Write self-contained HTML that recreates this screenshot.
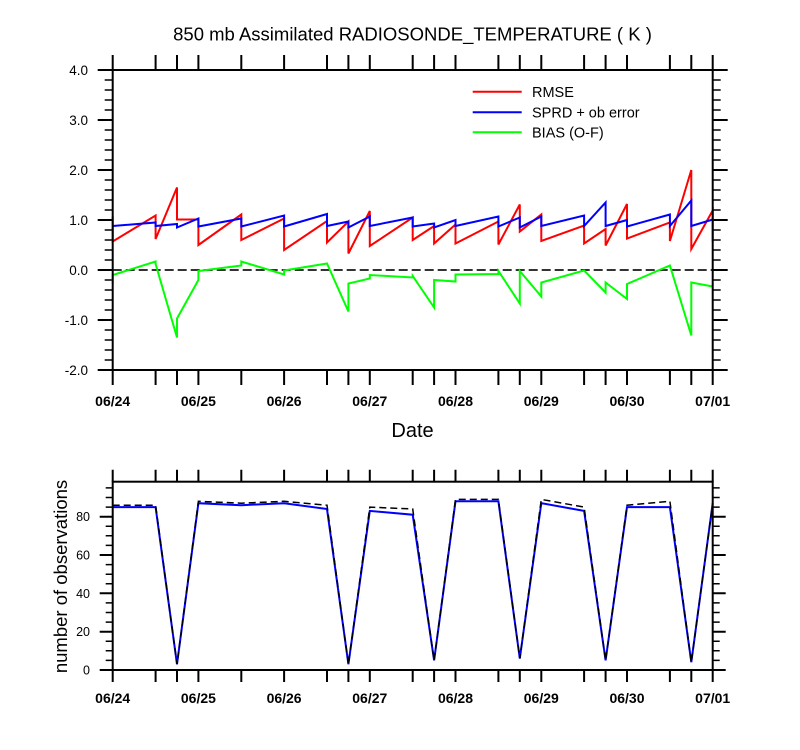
<!DOCTYPE html>
<html><head><meta charset="utf-8"><style>
html,body{margin:0;padding:0;background:#fff;}
svg{display:block;}
text{font-family:"Liberation Sans",Arial,sans-serif;fill:#000;}
</style></head><body>
<svg width="800" height="750" viewBox="0 0 800 750" xmlns="http://www.w3.org/2000/svg">
<rect width="800" height="750" fill="#fff"/>
<!-- Title -->
<text x="412.5" y="40.5" font-size="18.5" text-anchor="middle">850 mb Assimilated RADIOSONDE_TEMPERATURE ( K )</text>

<!-- ===== TOP PLOT ===== -->
<g stroke="#000" stroke-width="2" fill="none">
<!-- left major -->
<path d="M97.7,70H112.7M97.7,120H112.7M97.7,170H112.7M97.7,220H112.7M97.7,270H112.7M97.7,320H112.7M97.7,370H112.7"/>
<!-- right major -->
<path d="M712.7,70H727.7M712.7,120H727.7M712.7,170H727.7M712.7,220H727.7M712.7,270H727.7M712.7,320H727.7M712.7,370H727.7"/>
</g>
<g stroke="#000" stroke-width="1.5" fill="none">
<path d="M104.7,80H112.7M104.7,90H112.7M104.7,100H112.7M104.7,110H112.7M104.7,130H112.7M104.7,140H112.7M104.7,150H112.7M104.7,160H112.7M104.7,180H112.7M104.7,190H112.7M104.7,200H112.7M104.7,210H112.7M104.7,230H112.7M104.7,240H112.7M104.7,250H112.7M104.7,260H112.7M104.7,280H112.7M104.7,290H112.7M104.7,300H112.7M104.7,310H112.7M104.7,330H112.7M104.7,340H112.7M104.7,350H112.7M104.7,360H112.7"/>
<path d="M712.7,80H720.7M712.7,90H720.7M712.7,100H720.7M712.7,110H720.7M712.7,130H720.7M712.7,140H720.7M712.7,150H720.7M712.7,160H720.7M712.7,180H720.7M712.7,190H720.7M712.7,200H720.7M712.7,210H720.7M712.7,230H720.7M712.7,240H720.7M712.7,250H720.7M712.7,260H720.7M712.7,280H720.7M712.7,290H720.7M712.7,300H720.7M712.7,310H720.7M712.7,330H720.7M712.7,340H720.7M712.7,350H720.7M712.7,360H720.7"/>
</g>
<!-- top & bottom ticks -->
<g stroke="#000" stroke-width="2" fill="none">
<path d="M112.7,55V70M155.6,55V70M177,55V70M198.4,55V70M241.3,55V70M284.1,55V70M327,55V70M348.4,55V70M369.8,55V70M412.7,55V70M434.1,55V70M455.5,55V70M498.4,55V70M519.8,55V70M541.3,55V70M584.1,55V70M605.6,55V70M627,55V70M669.9,55V70M691.3,55V70M712.7,55V70"/>
<path d="M112.7,370V385M155.6,370V385M177,370V385M198.4,370V385M241.3,370V385M284.1,370V385M327,370V385M348.4,370V385M369.8,370V385M412.7,370V385M434.1,370V385M455.5,370V385M498.4,370V385M519.8,370V385M541.3,370V385M584.1,370V385M605.6,370V385M627,370V385M669.9,370V385M691.3,370V385M712.7,370V385"/>
</g>
<!-- zero line -->
<line x1="112.7" y1="270" x2="712.7" y2="270" stroke="#333" stroke-width="2" stroke-dasharray="9,4"/>
<!-- series -->
<g fill="none" stroke-width="2" stroke-linejoin="miter">
<polyline stroke="#ff0000" points="112.7,216.5 112.7,241.5 155.6,215.5 155.6,239 177,187.5 177,219.5 198.4,219.5 198.4,245 241.3,214.5 241.3,240 284.1,218.5 284.1,250 327,221 327,242.5 348.4,221.5 348.4,253.5 369.8,211 369.8,246 412.7,217.5 412.7,240 434.1,226 434.1,243.5 455.5,224.5 455.5,243.5 498.4,221.5 498.4,244.5 519.8,204.5 519.8,231.5 541.3,214.5 541.3,241 584.1,225.5 584.1,243.5 605.6,229 605.6,245.5 627,204 627,238.5 669.9,222.5 669.9,241 691.3,170 691.3,249 712.7,210.5 712.7,241.5"/>
<polyline stroke="#0000ff" points="112.7,226 155.6,222.5 155.6,226 177,224 177,227.5 198.4,218.5 198.4,226.5 241.3,218.5 241.3,226.5 284.1,215.5 284.1,226.5 327,214 327,226 348.4,221.5 348.4,227.5 369.8,216.5 369.8,226 412.7,217.5 412.7,226.5 434.1,223.5 434.1,227.5 455.5,220 455.5,226 498.4,216.5 498.4,226.5 519.8,217.5 519.8,227.5 541.3,216.5 541.3,226 584.1,215.5 584.1,226 605.6,202.5 605.6,226 627,220 627,226.5 669.9,214.5 669.9,226 691.3,200.5 691.3,226 712.7,219.5"/>
<polyline stroke="#00ff00" points="112.7,283.5 112.7,275 155.6,261.5 155.6,264 177,337.5 177,318.5 198.4,280 198.4,271 241.3,265.5 241.3,261.5 284.1,274.5 284.1,270.5 327,263.5 348.4,311.5 348.4,283.5 369.8,278.5 369.8,275 412.7,277.5 412.7,276 434.1,307.5 434.1,280 455.5,281.5 455.5,274.5 498.4,274 498.4,271 519.8,303.5 519.8,271 541.3,296.5 541.3,282.5 584.1,270.5 605.6,292.5 605.6,282.5 627,299 627,284 669.9,265.5 691.3,335.5 691.3,282.5 712.7,286.5"/>
</g>
<!-- frame -->
<rect x="112.7" y="70" width="600" height="300" fill="none" stroke="#000" stroke-width="2"/>
<!-- Y labels -->
<g font-size="13.5" text-anchor="end">
<text x="88" y="75">4.0</text>
<text x="88" y="125">3.0</text>
<text x="88" y="175">2.0</text>
<text x="88" y="225">1.0</text>
<text x="88" y="275">0.0</text>
<text x="88" y="325">-1.0</text>
<text x="88" y="375">-2.0</text>
</g>
<!-- X labels -->
<g font-size="14" font-weight="bold" text-anchor="middle">
<text x="112.7" y="406">06/24</text>
<text x="198.4" y="406">06/25</text>
<text x="284.1" y="406">06/26</text>
<text x="369.8" y="406">06/27</text>
<text x="455.5" y="406">06/28</text>
<text x="541.3" y="406">06/29</text>
<text x="627" y="406">06/30</text>
<text x="712.7" y="406">07/01</text>
</g>
<text x="412.5" y="437" font-size="20" text-anchor="middle">Date</text>
<!-- Legend -->
<g stroke-width="2">
<line x1="472.7" y1="91.7" x2="521.7" y2="91.7" stroke="#ff0000"/>
<line x1="472.7" y1="112.3" x2="521.7" y2="112.3" stroke="#0000ff"/>
<line x1="472.7" y1="132.3" x2="521.7" y2="132.3" stroke="#00ff00"/>
</g>
<g font-size="14.5">
<text x="532" y="97">RMSE</text>
<text x="532" y="117.5">SPRD + ob error</text>
<text x="532" y="137.5">BIAS (O-F)</text>
</g>

<!-- ===== BOTTOM PLOT ===== -->
<g stroke="#000" stroke-width="2" fill="none">
<path d="M99.7,670H112.7M99.7,631.7H112.7M99.7,593.3H112.7M99.7,555H112.7M99.7,516.7H112.7"/>
<path d="M712.7,670H725.7M712.7,631.7H725.7M712.7,593.3H725.7M712.7,555H725.7M712.7,516.7H725.7"/>
<path d="M112.7,469.7V481.7M155.6,469.7V481.7M177,469.7V481.7M198.4,469.7V481.7M241.3,469.7V481.7M284.1,469.7V481.7M327,469.7V481.7M348.4,469.7V481.7M369.8,469.7V481.7M412.7,469.7V481.7M434.1,469.7V481.7M455.5,469.7V481.7M498.4,469.7V481.7M519.8,469.7V481.7M541.3,469.7V481.7M584.1,469.7V481.7M605.6,469.7V481.7M627,469.7V481.7M669.9,469.7V481.7M691.3,469.7V481.7M712.7,469.7V481.7"/>
<path d="M112.7,670V682M155.6,670V682M177,670V682M198.4,670V682M241.3,670V682M284.1,670V682M327,670V682M348.4,670V682M369.8,670V682M412.7,670V682M434.1,670V682M455.5,670V682M498.4,670V682M519.8,670V682M541.3,670V682M584.1,670V682M605.6,670V682M627,670V682M669.9,670V682M691.3,670V682M712.7,670V682"/>
</g>
<g stroke="#000" stroke-width="1.5" fill="none">
<path d="M105.7,660.4H112.7M105.7,650.8H112.7M105.7,641.3H112.7M105.7,622.1H112.7M105.7,612.5H112.7M105.7,602.9H112.7M105.7,583.7H112.7M105.7,574.2H112.7M105.7,564.6H112.7M105.7,545.4H112.7M105.7,535.8H112.7M105.7,526.2H112.7M105.7,507.1H112.7M105.7,497.5H112.7M105.7,487.9H112.7"/>
<path d="M712.7,660.4H719.7M712.7,650.8H719.7M712.7,641.3H719.7M712.7,622.1H719.7M712.7,612.5H719.7M712.7,602.9H719.7M712.7,583.7H719.7M712.7,574.2H719.7M712.7,564.6H719.7M712.7,545.4H719.7M712.7,535.8H719.7M712.7,526.2H719.7M712.7,507.1H719.7M712.7,497.5H719.7M712.7,487.9H719.7"/>
</g>
<g fill="none">
<polyline stroke="#0000ff" stroke-width="2" points="112.7,507.1 155.6,507.1 177,664.2 198.4,503.2 241.3,505.2 284.1,503.2 327,509 348.4,664.2 369.8,510.9 412.7,514.7 434.1,660.4 455.5,501.3 498.4,501.3 519.8,658.5 541.3,503.2 584.1,510.9 605.6,660.4 627,507.1 669.9,507.1 691.3,662.3 712.7,503.2"/>
<polyline stroke="#000" stroke-width="1.5" stroke-dasharray="7,4" points="112.7,505.2 155.6,505.2 177,664.2 198.4,501.3 241.3,503.2 284.1,501.3 327,505.2 348.4,664.2 369.8,507.1 412.7,509 434.1,660.4 455.5,499.4 498.4,499.4 519.8,658.5 541.3,499.4 584.1,507.1 605.6,660.4 627,505.2 669.9,501.3 691.3,662.3 712.7,503.2"/>
</g>
<rect x="112.7" y="481.7" width="600" height="188.3" fill="none" stroke="#000" stroke-width="2"/>
<g font-size="12.5" text-anchor="end">
<text x="90" y="674.5">0</text>
<text x="90" y="636.2">20</text>
<text x="90" y="597.8">40</text>
<text x="90" y="559.5">60</text>
<text x="90" y="521.2">80</text>
</g>
<g font-size="14" font-weight="bold" text-anchor="middle">
<text x="112.7" y="703">06/24</text>
<text x="198.4" y="703">06/25</text>
<text x="284.1" y="703">06/26</text>
<text x="369.8" y="703">06/27</text>
<text x="455.5" y="703">06/28</text>
<text x="541.3" y="703">06/29</text>
<text x="627" y="703">06/30</text>
<text x="712.7" y="703">07/01</text>
</g>
<text transform="translate(67,576.5) rotate(-90)" font-size="18.5" text-anchor="middle">number of observations</text>
</svg>
</body></html>
